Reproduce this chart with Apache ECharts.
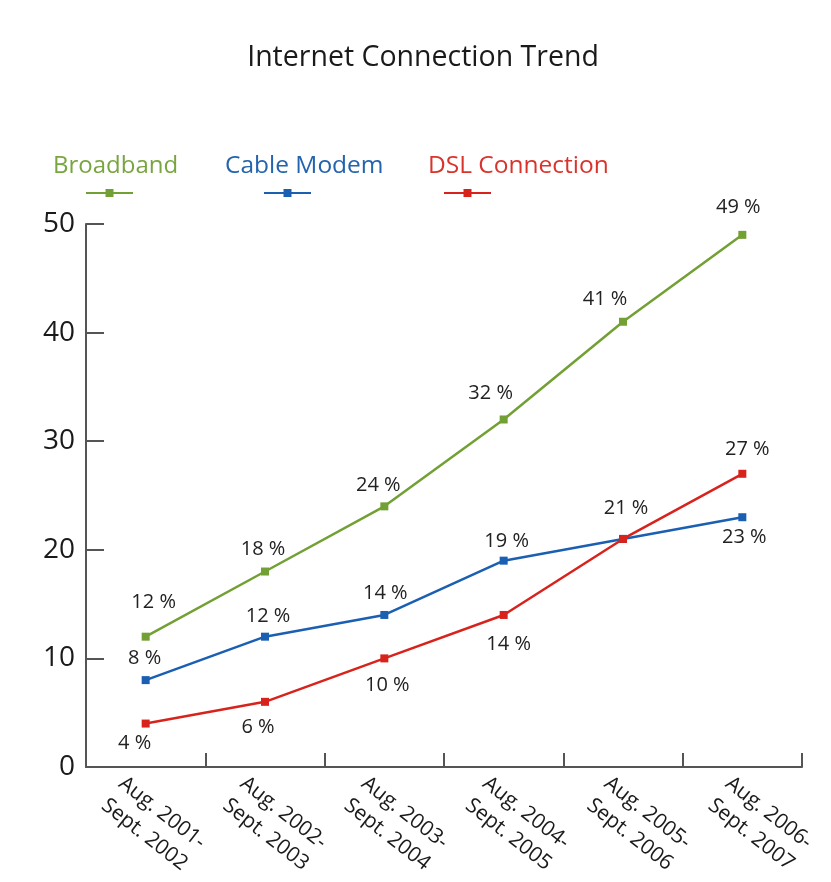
<!DOCTYPE html>
<html><head><meta charset="utf-8">
<script src="https://cdn.jsdelivr.net/npm/echarts@6/dist/echarts.min.js"></script>
<style>html,body{margin:0;padding:0;background:#fff}#c{width:831px;height:882px}</style>
</head><body><div id="c"></div>
<script>
const categories = ['Aug. 2001-\nSept. 2002', 'Aug. 2002-\nSept. 2003', 'Aug. 2003-\nSept. 2004', 'Aug. 2004-\nSept. 2005', 'Aug. 2005-\nSept. 2006', 'Aug. 2006-\nSept. 2007'];
const broadband = [12, 18, 24, 32, 41, 49];
const cableModem = [8, 12, 14, 19, 21, 23];
const dslConnection = [4, 6, 10, 14, 21, 27];
const seriesNames = ['Broadband', 'Cable Modem', 'DSL Connection'];
const yMin = 0, yMax = 50, yStep = 10;

// label placement (style, not data)
const broadbandLabelOffsets = [[8,-34],[-2,-22],[-6,-21],[-13,-26],[-18,-22],[-4,-28]];
const cableLabelOffsets = [[-1,-22],[3,-20],[1,-22],[3,-19],null,[2,20]];
const dslLabelOffsets = [[-11,20],[-7,25],[3,27],[5,29],[3,-31],[5,-24]];

const colors = ['#72a034', '#1b5fb3', '#d8231d'];
const textColors = ['#79a540', '#2463ad', '#d9342c'];
const FONT = 'Open Sans';

function buildData(values, offsets) {
  return values.map((v, i) => {
    const off = offsets[i];
    return {
      value: v,
      label: off ? { show: true, offset: off } : { show: false }
    };
  });
}

function lineSeries(name, values, offsets, color) {
  return {
    name: name,
    type: 'line',
    data: buildData(values, offsets),
    symbol: 'rect',
    symbolSize: 8,
    lineStyle: { color: color, width: 2.5 },
    itemStyle: { color: color },
    label: {
      position: 'inside',
      formatter: '{c} %',
      fontFamily: FONT,
      fontSize: 20,
      color: '#222'
    },
    emphasis: { disabled: true },
    animation: false
  };
}

const legendLeft = [85, 263, 443];
const legendTextLeft = [53, 225, 428];
const legendTextSize = [24, 24.5, 24.5];

const chart = echarts.init(document.getElementById('c'));
chart.setOption({
  backgroundColor: '#fff',
  animation: false,
  title: {
    text: 'Internet Connection Trend',
    left: 418,
    top: 38,
    textAlign: 'center',
    textStyle: { fontFamily: FONT, fontSize: 28.5, fontWeight: 'normal', color: '#1a1a1a' }
  },
  legend: seriesNames.map((n, i) => ({
    data: [n],
    left: legendLeft[i],
    top: 188,
    padding: 0,
    itemWidth: 47,
    itemHeight: 10,
    formatter: () => '',
    selectedMode: false,
    textStyle: { fontSize: 1 }
  })),
  graphic: seriesNames.map((n, i) => ({
    type: 'text',
    left: legendTextLeft[i],
    top: 154,
    style: {
      text: n,
      fontFamily: FONT,
      fontSize: legendTextSize[i],
      fill: textColors[i]
    }
  })),
  grid: [
    { left: 86, right: 29, top: 224, bottom: 115 },
    { left: 52, right: 51, top: 224, bottom: 115 }
  ],
  xAxis: [
    {
      type: 'category',
      data: categories,
      gridIndex: 0,
      boundaryGap: true,
      axisLine: { lineStyle: { color: '#555', width: 2 } },
      axisTick: { show: true, inside: true, length: 14, lineStyle: { color: '#555', width: 2 } },
      axisLabel: { show: false }
    },
    {
      type: 'category',
      data: categories,
      gridIndex: 1,
      boundaryGap: true,
      axisLine: { show: false },
      axisTick: { show: false },
      axisLabel: {
        show: true,
        interval: 0,
        rotate: -38,
        margin: 25,
        fontFamily: FONT,
        fontSize: 21,
        lineHeight: 28,
        color: '#1a1a1a'
      }
    }
  ],
  yAxis: [
    {
      type: 'value',
      gridIndex: 0,
      min: yMin,
      max: yMax,
      interval: yStep,
      axisLine: { show: true, lineStyle: { color: '#555', width: 2 } },
      axisTick: { show: true, inside: true, length: 18, lineStyle: { color: '#555', width: 2 } },
      splitLine: { show: false },
      axisLabel: { margin: 11, fontFamily: FONT, fontSize: 28, color: '#1a1a1a' }
    },
    {
      type: 'value', gridIndex: 1, min: yMin, max: yMax, show: false
    }
  ],
  series: [
    lineSeries(seriesNames[0], broadband, broadbandLabelOffsets, colors[0]),
    lineSeries(seriesNames[1], cableModem, cableLabelOffsets, colors[1]),
    lineSeries(seriesNames[2], dslConnection, dslLabelOffsets, colors[2])
  ]
});
</script>
</body></html>
